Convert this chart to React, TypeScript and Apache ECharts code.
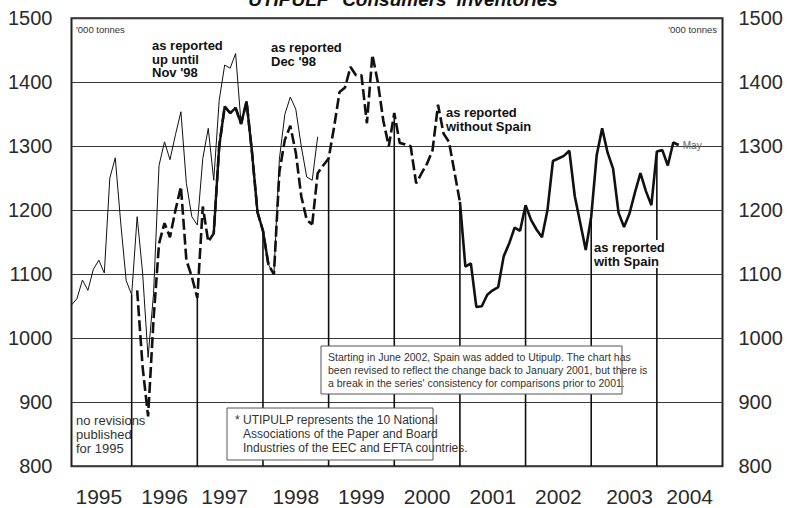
import React, { useEffect, useRef } from "react";
import * as echarts from "echarts";

// ---------- data ----------
const years = ["1995", "1996", "1997", "1998", "1999", "2000", "2001", "2002", "2003", "2004"];
const months: string[] = [];
years.forEach((y) => {
  for (let m = 1; m <= 12; m++) months.push(`${y}-${String(m).padStart(2, "0")}`);
});
// month under which each year label is printed
const yearLabelMonths = ["1995-06", "1996-06", "1997-05", "1998-06", "1999-06", "2000-06", "2001-06", "2002-06", "2003-07", "2004-06"];
// months at which the year-end drop lines are drawn
const dropLineMonths = ["1995-12", "1996-12", "1997-12", "1998-12", "1999-12", "2000-12", "2001-12", "2002-12", "2003-12"];

const yTicks = [800, 900, 1000, 1100, 1200, 1300, 1400, 1500];

// '000 tonnes
const reportedUntilNov98Start = "1995-01";
const reportedUntilNov98 = [
  1052, 1062, 1091, 1075, 1108, 1122, 1102, 1250, 1282, 1180, 1090, 1068,
  1190, 1102, 970, 1070, 1270, 1307, 1279, 1318, 1354, 1242, 1190, 1177,
  1281, 1328, 1247, 1372, 1427, 1422, 1445, 1335, 1370, 1295, 1197, 1168,
  1115, 1100, 1280, 1350, 1377, 1358, 1300, 1252, 1247, 1315,
];
const reportedDec98Start = "1996-01";
const reportedDec98 = [
  1075, 955, 878, 1030, 1148, 1180, 1158, 1200, 1237, 1122, 1096, 1063,
  1206, 1151, 1164, 1300, 1362, 1352, 1360, 1335, 1370, 1290, 1197, 1168,
  1115, 1100, 1260, 1310, 1332, 1290, 1222, 1185, 1178,
];
// stretch where the Dec '98 revision coincides with the later revision (drawn solid)
const coincideFrom = "1997-03";
const coincideTo = "1998-01";

const withoutSpainStart = "1998-09";
const withoutSpain = [
  1178, 1258, 1270, 1281,
  1330, 1385, 1392, 1424, 1411, 1411, 1336, 1443, 1400, 1340, 1300, 1352,
  1305, 1303, 1300, 1242, 1258, 1273, 1294, 1365, 1320, 1307, 1260, 1213,
];
const withSpainStart = "2000-12";
const withSpain = [
  1213,
  1112, 1117, 1049, 1050, 1068, 1075, 1080, 1128, 1148, 1173, 1168, 1208,
  1185, 1170, 1158, 1200, 1277, 1281, 1285, 1293, 1222, 1180, 1138, 1190,
  1286, 1328, 1290, 1265, 1196, 1174, 1195, 1228, 1258, 1230, 1208, 1292,
  1294, 1270, 1306, 1302,
];
const lastMonthLabel = "May";

// ---------- helpers ----------
function align(start: string, values: number[]): (number | null)[] {
  const out: (number | null)[] = months.map(() => null);
  const s = months.indexOf(start);
  values.forEach((v, i) => {
    out[s + i] = v;
  });
  return out;
}
function window(series: (number | null)[], from: string, to: string): (number | null)[] {
  const a = months.indexOf(from);
  const b = months.indexOf(to);
  return series.map((v, i) => (i >= a && i <= b ? v : null));
}

const NARROW = "'Liberation Sans Narrow', 'Arial Narrow', 'Liberation Sans', sans-serif";

export default function App() {
  const ref = useRef<HTMLDivElement>(null);

  useEffect(() => {
    if (!ref.current) return;
    const chart = echarts.init(ref.current, null, { renderer: "svg" });

    const sNov = align(reportedUntilNov98Start, reportedUntilNov98);
    const sDec = align(reportedDec98Start, reportedDec98);
    const sDecSolid = window(sDec, coincideFrom, coincideTo);
    const sWo = align(withoutSpainStart, withoutSpain);
    const sW = align(withSpainStart, withSpain);

    // drop lines use the latest available vintage at each year end
    const dropData = dropLineMonths.map((m) => {
      const i = months.indexOf(m);
      const v = [sW[i], sWo[i], sDec[i], sNov[i]].find((x) => x != null) as number;
      return [i, v];
    });

    const yMin = yTicks[0];
    const yMax = yTicks[yTicks.length - 1];

    const yAxisCommon = {
      type: "value",
      min: yMin,
      max: yMax,
      interval: 100,
      axisTick: { show: false },
      axisLine: { show: false },
    };
    const yLabel = {
      fontFamily: NARROW,
      fontSize: 20,
      color: "#2a2a2a",
      formatter: (v: number) => String(v),
    };

    chart.setOption({
      animation: false,
      backgroundColor: "#ffffff",
      grid: {
        left: 71.5,
        right: 70.5,
        top: 18.3,
        bottom: 41.7,
        show: true,
        borderColor: "#222",
        borderWidth: 2,
        backgroundColor: "transparent",
      },
      xAxis: {
        type: "category",
        data: months,
        boundaryGap: false,
        axisLine: { show: false },
        axisTick: { show: false },
        splitLine: { show: false },
        axisLabel: {
          interval: (index: number) => yearLabelMonths.includes(months[index]),
          formatter: (val: string) => years[yearLabelMonths.indexOf(val)] ?? "",
          fontFamily: NARROW,
          fontSize: 21,
          color: "#2a2a2a",
          margin: 20,
        },
      },
      yAxis: [
        {
          ...yAxisCommon,
          position: "left",
          splitLine: { show: true, lineStyle: { color: "#3a3a3a", width: 1 } },
          axisLabel: { ...yLabel, margin: 19 },
        },
        {
          ...yAxisCommon,
          position: "right",
          splitLine: { show: false },
          axisLabel: { ...yLabel, margin: 16 },
        },
      ],
      series: [
        {
          type: "custom",
          name: "year end",
          z: 1,
          data: dropData,
          renderItem: (params: any, api: any) => {
            const top = api.coord([api.value(0), api.value(1)]);
            const bottom = api.coord([api.value(0), yMin]);
            return {
              type: "line",
              shape: { x1: top[0], y1: top[1], x2: bottom[0], y2: bottom[1] },
              style: { stroke: "#111", lineWidth: 1.6 },
            };
          },
        },
        {
          type: "line",
          name: "as reported up until Nov '98",
          data: sNov,
          symbol: "none",
          lineStyle: { color: "#111", width: 1 },
          z: 3,
        },
        {
          type: "line",
          name: "as reported Dec '98",
          data: sDec,
          symbol: "none",
          lineStyle: { color: "#111", width: 2.6, type: [11, 4] },
          z: 4,
        },
        {
          type: "line",
          name: "as reported Dec '98 (coinciding)",
          data: sDecSolid,
          symbol: "none",
          lineStyle: { color: "#111", width: 2.4 },
          z: 4,
        },
        {
          type: "line",
          name: "as reported without Spain",
          data: sWo,
          symbol: "none",
          lineStyle: { color: "#111", width: 2.6, type: [11, 4] },
          z: 4,
        },
        {
          type: "line",
          name: "as reported with Spain",
          data: sW,
          symbol: "none",
          lineStyle: { color: "#111", width: 2.6 },
          z: 4,
          endLabel: {
            show: true,
            formatter: () => lastMonthLabel,
            fontFamily: NARROW,
            fontSize: 10,
            color: "#666",
            distance: 4,
          },
        },
      ],
      graphic: [
        {
          type: "text",
          x: 403,
          y: -1,
          z: 50,
          style: {
            text: "UTIPULP* Consumers' Inventories",
            fontFamily: NARROW,
            fontSize: 19,
            fontWeight: "bold",
            fontStyle: "italic",
            fill: "#111",
            textAlign: "center",
            textVerticalAlign: "middle",
          },
        },
        {
          type: "text",
          x: 76,
          y: 29,
          z: 50,
          style: { text: "'000 tonnes", fontFamily: NARROW, fontSize: 9.5, fill: "#333", textVerticalAlign: "middle" },
        },
        {
          type: "text",
          x: 717,
          y: 29,
          z: 50,
          style: { text: "'000 tonnes", fontFamily: NARROW, fontSize: 9.5, fill: "#333", textAlign: "right", textVerticalAlign: "middle" },
        },
        {
          type: "text",
          x: 152,
          y: 39,
          z: 50,
          style: { text: "as reported\nup until\nNov '98", fontFamily: NARROW, fontSize: 13, fontWeight: "bold", lineHeight: 13.5, fill: "#111" },
        },
        {
          type: "text",
          x: 271,
          y: 40,
          z: 50,
          style: { text: "as reported\nDec '98", fontFamily: NARROW, fontSize: 13, fontWeight: "bold", lineHeight: 14, fill: "#111" },
        },
        {
          type: "text",
          x: 446,
          y: 105,
          z: 50,
          style: { text: "as reported\nwithout Spain", fontFamily: NARROW, fontSize: 13, fontWeight: "bold", lineHeight: 14, fill: "#111" },
        },
        {
          type: "text",
          x: 594,
          y: 240,
          z: 50,
          style: {
            text: "as reported\nwith Spain",
            fontFamily: NARROW,
            fontSize: 13,
            fontWeight: "bold",
            lineHeight: 14,
            fill: "#111",
            backgroundColor: "#fff",
          },
        },
        {
          type: "text",
          x: 76,
          y: 413,
          z: 0,
          style: { text: "no revisions\npublished\nfor 1995", fontFamily: NARROW, fontSize: 13, lineHeight: 14, fill: "#333" },
        },
        {
          type: "rect",
          z: 40,
          shape: { x: 227, y: 408, width: 206, height: 52 },
          style: { fill: "#fff", stroke: "#555", lineWidth: 1 },
        },
        {
          type: "text",
          x: 235,
          y: 413,
          z: 50,
          style: { text: "*", fontFamily: NARROW, fontSize: 12, lineHeight: 14, fill: "#333" },
        },
        {
          type: "text",
          x: 243,
          y: 413,
          z: 50,
          style: {
            text: "UTIPULP represents the 10 National\nAssociations of the Paper and Board\nIndustries of the EEC and EFTA countries.",
            fontFamily: NARROW,
            fontSize: 12,
            lineHeight: 14,
            fill: "#333",
          },
        },
        {
          type: "rect",
          z: 40,
          shape: { x: 321, y: 346, width: 301, height: 48 },
          style: { fill: "#fff", stroke: "#555", lineWidth: 1 },
        },
        {
          type: "text",
          x: 328,
          y: 350,
          z: 50,
          style: {
            text:
              "Starting in June 2002, Spain was added to Utipulp. The chart has\nbeen revised to reflect the change back to January 2001, but there is\na break in the series' consistency for comparisons prior to 2001.",
            fontFamily: NARROW,
            fontSize: 10.5,
            lineHeight: 13,
            fill: "#333",
          },
        },
      ],
    });

    return () => chart.dispose();
  }, []);

  return (
    <div
      ref={ref}
      style={{ position: "fixed", left: 0, top: 0, width: 793, height: 508, background: "#fff" }}
    />
  );
}
